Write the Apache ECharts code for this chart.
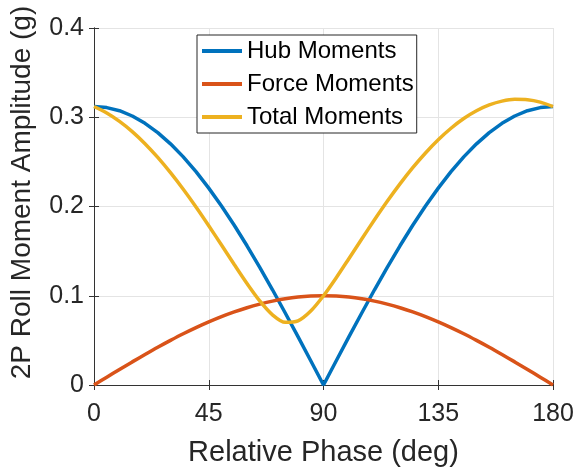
<!DOCTYPE html>
<html>
<head>
<meta charset="utf-8">
<script src="https://cdn.jsdelivr.net/npm/echarts@6/dist/echarts.min.js"></script>
<style>
  html, body { margin: 0; padding: 0; background: #fff; }
  #chart { width: 577px; height: 472px; }
</style>
</head>
<body>
<div id="chart"></div>
<script>
// Relative phase between hub and force contributions (deg)
const phaseDeg = [0, 5, 10, 15, 20, 25, 30, 35, 40, 45, 50, 55, 60, 65, 70, 75, 80, 85, 90,
  95, 100, 105, 110, 115, 120, 125, 130, 135, 140, 145, 150, 155, 160, 165, 170, 175, 180];

// 2P roll moment amplitudes (g)
const hubMoments = [0.3120, 0.3108, 0.3073, 0.3014, 0.2932, 0.2828, 0.2702, 0.2556, 0.2390, 0.2206,
  0.2006, 0.1790, 0.1560, 0.1319, 0.1067, 0.0807, 0.0542, 0.0272, 0.0000,
  0.0272, 0.0542, 0.0807, 0.1067, 0.1319, 0.1560, 0.1790, 0.2006, 0.2206,
  0.2390, 0.2556, 0.2702, 0.2828, 0.2932, 0.3014, 0.3073, 0.3108, 0.3120];

const forceMoments = [0.0000, 0.0087, 0.0174, 0.0259, 0.0342, 0.0423, 0.0500, 0.0574, 0.0643, 0.0707,
  0.0766, 0.0819, 0.0866, 0.0906, 0.0940, 0.0966, 0.0985, 0.0996, 0.1000,
  0.0996, 0.0985, 0.0966, 0.0940, 0.0906, 0.0866, 0.0819, 0.0766, 0.0707,
  0.0643, 0.0574, 0.0500, 0.0423, 0.0342, 0.0259, 0.0174, 0.0087, 0.0000];

const totalMoments = [0.3120, 0.3048, 0.2954, 0.2839, 0.2704, 0.2550, 0.2379, 0.2193, 0.1994, 0.1784,
  0.1568, 0.1350, 0.1137, 0.0942, 0.0786, 0.0702, 0.0719, 0.0829, 0.1000,
  0.1202, 0.1418, 0.1636, 0.1851, 0.2058, 0.2253, 0.2435, 0.2600, 0.2748,
  0.2877, 0.2986, 0.3073, 0.3138, 0.3181, 0.3201, 0.3197, 0.3170, 0.3120];

const seriesNames = ['Hub Moments', 'Force Moments', 'Total Moments'];
const seriesColors = ['#0072BD', '#D95319', '#EDB120'];

const xTicks = { min: 0, max: 180, interval: 45 };
const yTicks = { min: 0, max: 0.4, interval: 0.1 };

const axisColor = '#333333';
const labelColor = '#262626';
const gridColor = '#e4e4e4';
const fontFamily = '"Liberation Sans", Arial, Helvetica, sans-serif';

function pairs(ys) {
  return phaseDeg.map((x, i) => [x, ys[i]]);
}

const chart = echarts.init(document.getElementById('chart'), null, { renderer: 'canvas' });

// top and right axes close the box and repeat the inward ticks
const boxAxisCommon = {
  axisLine: { show: true, lineStyle: { color: axisColor, width: 1 } },
  axisTick: { show: true, inside: true, length: 5, lineStyle: { color: axisColor } },
  axisLabel: { show: false },
  splitLine: { show: false }
};

chart.setOption({
  animation: false,
  backgroundColor: '#ffffff',
  textStyle: { fontFamily: fontFamily },
  grid: { left: 94, right: 24, top: 28, bottom: 86, containLabel: false },
  legend: {
    orient: 'vertical',
    left: 197,
    top: 35,
    data: seriesNames,
    icon: 'rect',
    itemWidth: 40,
    itemHeight: 4,
    itemGap: 9,
    padding: [4, 3, 4, 5],
    borderColor: '#262626',
    borderWidth: 1,
    backgroundColor: '#ffffff',
    textStyle: { fontSize: 24, color: '#000000', fontFamily: fontFamily }
  },
  xAxis: [
    {
      type: 'value',
      position: 'bottom',
      min: xTicks.min, max: xTicks.max, interval: xTicks.interval,
      name: 'Relative Phase (deg)',
      nameLocation: 'middle',
      nameGap: 53,
      nameTextStyle: { fontSize: 29, color: labelColor, fontFamily: fontFamily },
      axisLine: { show: true, onZero: false, lineStyle: { color: axisColor, width: 1 } },
      axisTick: { show: true, inside: true, length: 5, lineStyle: { color: axisColor } },
      axisLabel: { show: true, fontSize: 25, color: labelColor, margin: 17, fontFamily: fontFamily },
      splitLine: { show: true, lineStyle: { color: gridColor, width: 1 } }
    },
    Object.assign({
      type: 'value',
      position: 'top',
      min: xTicks.min, max: xTicks.max, interval: xTicks.interval
    }, boxAxisCommon)
  ],
  yAxis: [
    {
      type: 'value',
      position: 'left',
      min: yTicks.min, max: yTicks.max, interval: yTicks.interval,
      name: '2P Roll Moment Amplitude (g)',
      nameLocation: 'middle',
      nameGap: 58,
      nameTextStyle: { fontSize: 28, color: labelColor, fontFamily: fontFamily, padding: [0, 0, 0, 28] },
      axisLine: { show: true, onZero: false, lineStyle: { color: axisColor, width: 1 } },
      axisTick: { show: true, inside: true, length: 5, lineStyle: { color: axisColor } },
      axisLabel: {
        show: true, fontSize: 25, color: labelColor, margin: 10, fontFamily: fontFamily,
        formatter: v => (v === 0 ? '0' : v.toFixed(1))
      },
      splitLine: { show: true, lineStyle: { color: gridColor, width: 1 } }
    },
    Object.assign({
      type: 'value',
      position: 'right',
      min: yTicks.min, max: yTicks.max, interval: yTicks.interval
    }, boxAxisCommon)
  ],
  series: [
    {
      name: seriesNames[0], type: 'line', data: pairs(hubMoments),
      showSymbol: false, smooth: false,
      lineStyle: { color: seriesColors[0], width: 3.5 },
      itemStyle: { color: seriesColors[0] }
    },
    {
      name: seriesNames[1], type: 'line', data: pairs(forceMoments),
      showSymbol: false, smooth: 0.3,
      lineStyle: { color: seriesColors[1], width: 3.5 },
      itemStyle: { color: seriesColors[1] }
    },
    {
      name: seriesNames[2], type: 'line', data: pairs(totalMoments),
      showSymbol: false, smooth: 0.3,
      lineStyle: { color: seriesColors[2], width: 3.5 },
      itemStyle: { color: seriesColors[2] }
    }
  ]
});
</script>
</body>
</html>
